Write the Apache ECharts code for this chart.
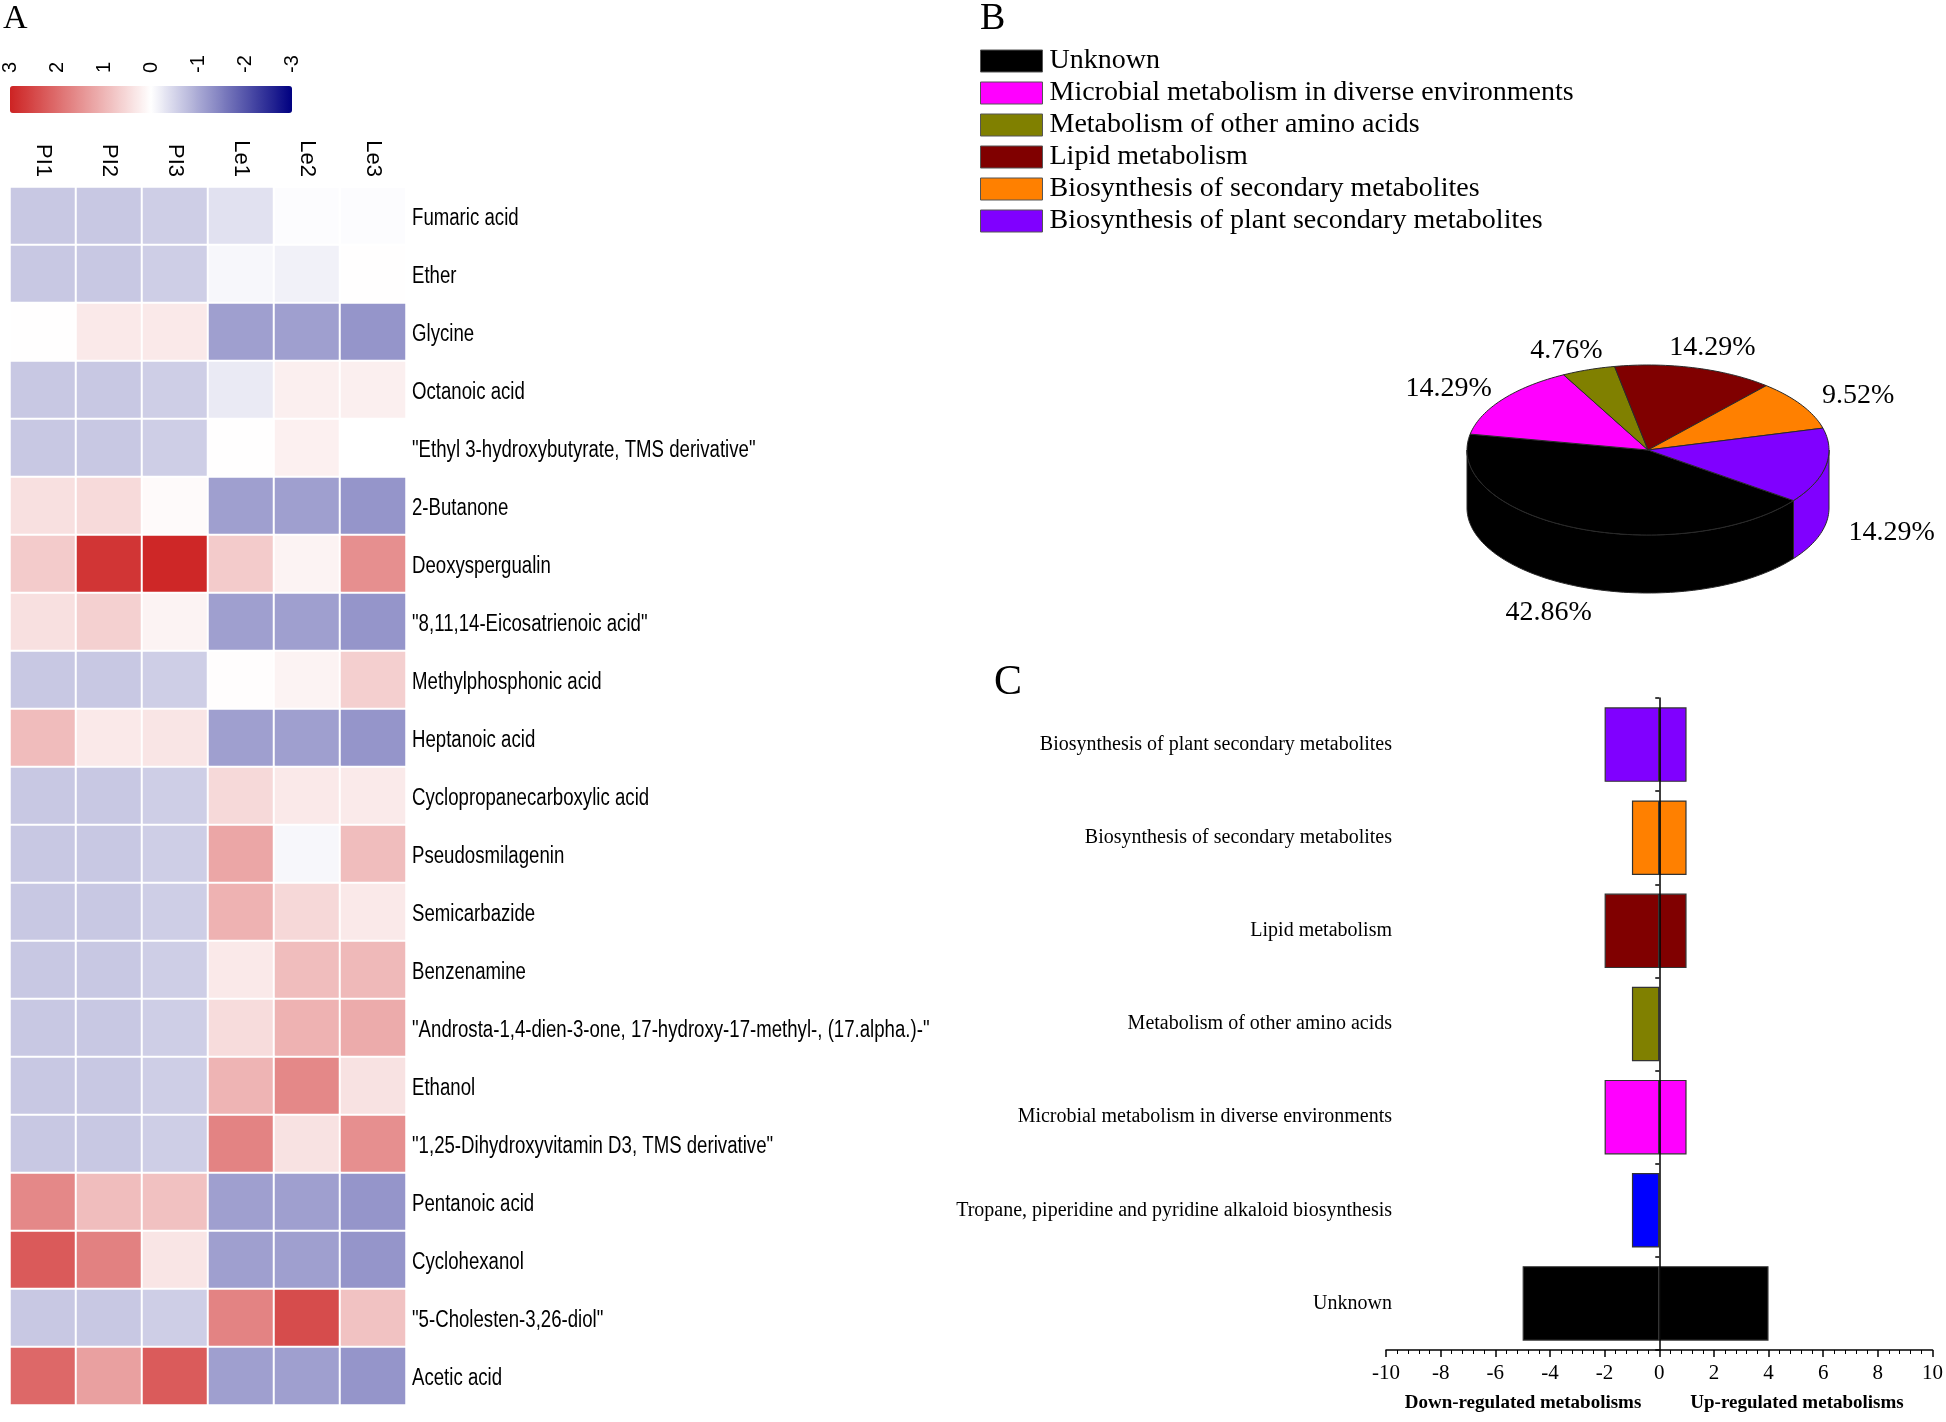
<!DOCTYPE html>
<html><head><meta charset="utf-8">
<script src="https://cdn.jsdelivr.net/npm/echarts@6/dist/echarts.min.js"></script>
<style>html,body{margin:0;padding:0;background:#fff}#c{width:1946px;height:1422px}</style>
</head><body><div id="c"></div>
<script>
// ---------- Panel A data ----------
const samples = ['PI1', 'PI2', 'PI3', 'Le1', 'Le2', 'Le3'];
const metabolites = [
  'Fumaric acid', 'Ether', 'Glycine', 'Octanoic acid',
  '"Ethyl 3-hydroxybutyrate, TMS derivative"', '2-Butanone', 'Deoxyspergualin',
  '"8,11,14-Eicosatrienoic acid"', 'Methylphosphonic acid', 'Heptanoic acid',
  'Cyclopropanecarboxylic acid', 'Pseudosmilagenin', 'Semicarbazide', 'Benzenamine',
  '"Androsta-1,4-dien-3-one, 17-hydroxy-17-methyl-, (17.alpha.)-"', 'Ethanol',
  '"1,25-Dihydroxyvitamin D3, TMS derivative"', 'Pentanoic acid', 'Cyclohexanol',
  '"5-Cholesten-3,26-diol"', 'Acetic acid'
];
const zscores = [
  [-0.65, -0.65, -0.58, -0.35, -0.03, -0.03],
  [-0.65, -0.65, -0.58, -0.10, -0.17, 0.02],
  [0.02, 0.30, 0.30, -1.13, -1.13, -1.25],
  [-0.65, -0.65, -0.58, -0.25, 0.22, 0.22],
  [-0.65, -0.65, -0.58, 0.02, 0.20, 0.00],
  [0.42, 0.50, 0.07, -1.13, -1.13, -1.25],
  [0.71, 2.75, 2.95, 0.71, 0.17, 1.53],
  [0.42, 0.64, 0.17, -1.13, -1.13, -1.25],
  [-0.65, -0.65, -0.58, 0.03, 0.17, 0.66],
  [0.91, 0.30, 0.35, -1.13, -1.13, -1.25],
  [-0.65, -0.65, -0.58, 0.52, 0.30, 0.28],
  [-0.65, -0.65, -0.58, 1.21, -0.10, 0.90],
  [-0.65, -0.65, -0.58, 1.05, 0.53, 0.30],
  [-0.65, -0.65, -0.58, 0.30, 0.90, 0.95],
  [-0.65, -0.65, -0.58, 0.48, 1.05, 1.15],
  [-0.65, -0.65, -0.58, 1.02, 1.62, 0.40],
  [-0.65, -0.65, -0.58, 1.69, 0.40, 1.53],
  [1.62, 0.90, 0.85, -1.13, -1.13, -1.25],
  [2.25, 1.72, 0.35, -1.13, -1.13, -1.25],
  [-0.65, -0.65, -0.58, 1.69, 2.44, 0.83],
  [2.06, 1.30, 2.24, -1.13, -1.13, -1.25]
];
const scaleMin = -3, scaleMax = 3, scaleStep = 1;

// ---------- Panel B data ----------
const pathwayNames = [
  'Unknown', 'Microbial metabolism in diverse environments', 'Metabolism of other amino acids',
  'Lipid metabolism', 'Biosynthesis of secondary metabolites', 'Biosynthesis of plant secondary metabolites'
];
const pathwayCounts = [9, 3, 1, 3, 2, 3];
const pathwayColors = ['#000000', '#ff00ff', '#808000', '#800000', '#ff8000', '#8000ff'];

// ---------- Panel C data ----------
const barCategories = [
  'Biosynthesis of plant secondary metabolites', 'Biosynthesis of secondary metabolites',
  'Lipid metabolism', 'Metabolism of other amino acids',
  'Microbial metabolism in diverse environments',
  'Tropane, piperidine and pyridine alkaloid biosynthesis', 'Unknown'
];
const upCounts = [1, 1, 1, 0, 1, 0, 4];
const downCounts = [-2, -1, -2, -1, -2, -1, -5];
const barColors = ['#8000ff', '#ff8000', '#800000', '#808000', '#ff00ff', '#0000ff', '#000000'];

// ---------- build ----------
const SERIF = '"Liberation Serif", "Times New Roman", serif';
const SANS = '"Liberation Sans", Arial, sans-serif';
const HM = { left: 10, top: 187, width: 396, height: 1218 };

const heatData = [];
zscores.forEach((row, r) => row.forEach((v, c) => heatData.push([c, r, v])));

const PIE = { cx: 1648, cy: 450, rx: 181, ry: 85, depth: 58, start: -36.5, kx: 1.37, ky: 1.29, dy: 4 };
const pieTotal = pathwayCounts.reduce((a, b) => a + b, 0);
function ePt(th, dy) {
  const r = th * Math.PI / 180;
  return [PIE.cx + PIE.rx * Math.cos(r), PIE.cy - PIE.ry * Math.sin(r) + (dy || 0)];
}
function arcPts(a, b, dy) {
  const n = Math.max(2, Math.ceil(Math.abs(b - a) / 1.5));
  const out = [];
  for (let i = 0; i <= n; i++) out.push(ePt(a + (b - a) * i / n, dy));
  return out;
}
function sliceRender(k) {
  return function (params, api) {
    let cum = 0;
    for (let i = 0; i < k; i++) cum += pathwayCounts[i];
    const v = api.value(0);
    const a0 = PIE.start - cum / pieTotal * 360;
    const a1 = PIE.start - (cum + v) / pieTotal * 360;
    const color = api.visual('color');
    const st = { fill: color, stroke: '#2a2a2a', lineWidth: 1 };
    const children = [];
    for (let m = -2; m <= 1; m++) {
      const lo = Math.max(a1, -180 + 360 * m), hi = Math.min(a0, 360 * m);
      if (hi > lo) {
        const pts = arcPts(hi, lo, 0).concat(arcPts(lo, hi, PIE.depth));
        children.push({ type: 'polygon', shape: { points: pts }, style: st });
      }
    }
    children.push({ type: 'polygon', shape: { points: [[PIE.cx, PIE.cy]].concat(arcPts(a0, a1, 0)) }, style: st });
    const mid = (a0 + a1) / 2 * Math.PI / 180;
    const s = Math.sin(mid);
    const lx = PIE.cx + PIE.kx * PIE.rx * Math.cos(mid);
    const ly = PIE.cy - PIE.ky * PIE.ry * s + (s < 0 ? PIE.depth : 0) + PIE.dy;
    children.push({
      type: 'text', x: lx, y: ly,
      style: { text: (v / pieTotal * 100).toFixed(2) + '%', fontSize: 28, fontFamily: SERIF, fill: '#000', align: 'center', verticalAlign: 'middle' }
    });
    return { type: 'group', children };
  };
}

const pieSeries = pathwayNames.map((name, k) => ({
  type: 'custom', name, coordinateSystem: 'none',
  itemStyle: { color: pathwayColors[k] },
  renderItem: sliceRender(k),
  data: [[pathwayCounts[k]]],
  silent: true, animation: false
}));

const baseGraphics = [
  { type: 'text', left: 3, top: 2, style: { text: 'A', fontSize: 34, fontFamily: SERIF, fill: '#000' } },
  { type: 'text', left: 980, top: 0, style: { text: 'B', fontSize: 38, fontFamily: SERIF, fill: '#000' } },
  { type: 'text', left: 994, top: 662, style: { text: 'C', fontSize: 42, fontFamily: SERIF, fill: '#000' } },
  { type: 'text', x: 1523, y: 1403, style: { text: 'Down-regulated metabolisms', fontSize: 19, fontWeight: 'bold', fontFamily: SERIF, fill: '#000', align: 'center', verticalAlign: 'middle' } },
  { type: 'text', x: 1797, y: 1403, style: { text: 'Up-regulated metabolisms', fontSize: 19, fontWeight: 'bold', fontFamily: SERIF, fill: '#000', align: 'center', verticalAlign: 'middle' } }
];

const option = {
  animation: false,
  backgroundColor: '#fff',
  grid: [
    { left: HM.left, top: HM.top, width: HM.width, height: HM.height },
    { left: 10, top: 86, width: 282, height: 27 },
    { left: 1386, top: 698, width: 548, height: 652 }
  ],
  xAxis: [
    { gridIndex: 0, type: 'category', data: samples, position: 'top',
      axisLine: { show: false }, axisTick: { show: false }, splitLine: { show: false },
      axisLabel: { rotate: 90, margin: 10, fontSize: 22, fontFamily: SANS, color: '#000' } },
    { gridIndex: 1, type: 'value', min: scaleMin, max: scaleMax, interval: scaleStep, inverse: true, position: 'top',
      axisLine: { show: false }, axisTick: { show: false }, splitLine: { show: false },
      axisLabel: { rotate: 90, margin: 13, fontSize: 20, fontFamily: SANS, color: '#000', showMinLabel: true, showMaxLabel: true } },
    { gridIndex: 2, type: 'value', min: -10, max: 10, interval: 2,
      axisLine: { show: true, lineStyle: { color: '#000', width: 1.5 } },
      axisTick: { show: true, length: 7, lineStyle: { color: '#000', width: 1.5 } },
      minorTick: { show: true, splitNumber: 5, length: 4, lineStyle: { color: '#000', width: 1 } },
      splitLine: { show: false }, minorSplitLine: { show: false },
      axisLabel: { margin: 13, fontSize: 21, fontFamily: SERIF, color: '#000' } }
  ],
  yAxis: [
    { gridIndex: 0, type: 'category', data: metabolites, inverse: true, position: 'right',
      axisLine: { show: false }, axisTick: { show: false }, splitLine: { show: false },
      axisLabel: { show: false } },
    { gridIndex: 1, type: 'value', show: false },
    { gridIndex: 2, type: 'category', data: barCategories, inverse: true, position: 'left',
      axisLine: { show: false, onZero: false }, axisTick: { show: false }, splitLine: { show: false },
      axisLabel: { margin: -6, fontSize: 20, fontFamily: SERIF, color: '#000' } },
    { gridIndex: 2, type: 'category', data: barCategories, inverse: true, position: 'left', z: 10,
      axisLine: { show: true, onZero: true, lineStyle: { color: '#000', width: 1.5 } },
      axisTick: { show: true, length: 4, lineStyle: { color: '#000', width: 1.5 } },
      axisLabel: { show: false }, splitLine: { show: false } }
  ],
  visualMap: {
    type: 'continuous', min: scaleMin, max: scaleMax, seriesIndex: 0,
    orient: 'horizontal', inverse: true, left: 10, top: 86, itemWidth: 27, itemHeight: 282,
    padding: 0, calculable: false, hoverLink: false, text: null,
    inRange: { color: ['#000080', '#ffffff', '#cd2323'] }
  },
  legend: {
    data: pathwayNames, orient: 'vertical', left: 980, top: 47, padding: 0,
    itemWidth: 62, itemHeight: 22, itemGap: 4,
    icon: 'rect', selectedMode: false,
    itemStyle: { borderColor: '#555', borderWidth: 1 },
    textStyle: { fontFamily: SERIF, fontSize: 28, lineHeight: 28, color: '#000', padding: [0, 0, 0, 2] }
  },
  graphic: baseGraphics,
  series: [
    { type: 'heatmap', xAxisIndex: 0, yAxisIndex: 0, data: heatData,
      itemStyle: { borderColor: '#fff', borderWidth: 2 }, emphasis: { disabled: true } },
    { type: 'bar', name: 'down', xAxisIndex: 2, yAxisIndex: 2, stack: 'reg', barWidth: '80%',
      data: downCounts.map((v, i) => ({ value: v === 0 ? '-' : v, itemStyle: { color: barColors[i] } })),
      itemStyle: { borderColor: '#333', borderWidth: 1.2 } },
    { type: 'bar', name: 'up', xAxisIndex: 2, yAxisIndex: 2, stack: 'reg', barWidth: '80%',
      data: upCounts.map((v, i) => ({ value: v === 0 ? '-' : v, itemStyle: { color: barColors[i] } })),
      itemStyle: { borderColor: '#333', borderWidth: 1.2 } }
  ].concat(pieSeries)
};

const chart = echarts.init(document.getElementById('c'), null, { renderer: 'canvas' });
chart.setOption(option);

// Heatmap row labels: condensed sans text, placed with the category axis scale
const rowLabels = metabolites.map((name, i) => ({
  type: 'text',
  x: HM.left + HM.width + 6,
  y: chart.convertToPixel({ yAxisIndex: 0 }, i) + 3,
  scaleX: 0.81,
  style: { text: name, fontSize: 23, fontFamily: SANS, fill: '#000', align: 'left', verticalAlign: 'middle' }
}));
chart.setOption({ graphic: baseGraphics.concat(rowLabels) });
</script>
</body></html>
